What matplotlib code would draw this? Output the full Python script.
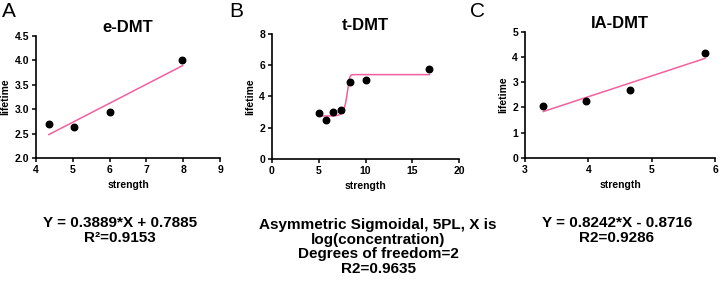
import numpy as np
import matplotlib.pyplot as plt

plt.rcParams['font.family'] = ['Liberation Sans', 'DejaVu Sans']

# Panel A: e-DMT, linear fit
a_x = [4.35, 5.03, 6.01, 7.98]
a_y = [2.69, 2.63, 2.94, 4.00]
a_slope, a_icpt = 0.3889, 0.7885

# Panel B: t-DMT, asymmetric sigmoidal (5PL) fit
b_x = [5.03, 5.81, 6.52, 7.34, 8.31, 10.09, 16.83]
b_y = [2.93, 2.50, 2.99, 3.12, 4.94, 5.05, 5.73]
b_bottom, b_top, b_logxb, b_hill, b_s = 2.75, 5.40, 8.2, 5.0, 0.3

# Panel C: IA-DMT, linear fit
c_x = [3.29, 3.97, 4.66, 5.84]
c_y = [2.07, 2.27, 2.70, 4.14]
c_slope, c_icpt = 0.8242, -0.8716

fit_color = '#f2609e'

fig = plt.figure(figsize=(7.19, 2.86), dpi=100)
axA = fig.add_axes([0.0501, 0.4476, 0.2559, 0.4266])
axB = fig.add_axes([0.3783, 0.4441, 0.2601, 0.4370])
axC = fig.add_axes([0.7302, 0.4476, 0.2643, 0.4416])


def style(ax, title, xlim, ylim, xticks, yticks, yfmt):
    ax.set_xlim(*xlim)
    ax.set_ylim(*ylim)
    ax.set_xticks(xticks)
    ax.set_yticks(yticks)
    ax.set_yticklabels([yfmt.format(v) for v in yticks])
    for s in ['top', 'right']:
        ax.spines[s].set_visible(False)
    for s in ['left', 'bottom']:
        ax.spines[s].set_linewidth(1.2)
    ax.tick_params(direction='out', length=3, width=1.1, labelsize=7.5, pad=2)
    for lab in ax.get_xticklabels() + ax.get_yticklabels():
        lab.set_fontweight('bold')
    ax.set_title(title, fontsize=12, fontweight='bold', pad=3)
    ax.set_xlabel('strength', fontsize=7.5, fontweight='bold', labelpad=4)
    ax.set_ylabel('lifetime', fontsize=7.5, fontweight='bold', labelpad=3)


# A
xs = np.array([min(a_x), max(a_x)])
axA.plot(xs, a_slope * xs + a_icpt, color=fit_color, lw=1.1)
axA.scatter(a_x, a_y, s=22, color='black', zorder=3)
style(axA, 'e-DMT', (4, 9), (2.0, 4.5), [4, 5, 6, 7, 8, 9],
      [2.0, 2.5, 3.0, 3.5, 4.0, 4.5], '{:.1f}')

# B
xb = np.linspace(min(b_x), max(b_x), 400)
yb = b_bottom + (b_top - b_bottom) / (1 + 10 ** ((b_logxb - xb) * b_hill)) ** b_s
axB.plot(xb, yb, color=fit_color, lw=1.1)
axB.scatter(b_x, b_y, s=22, color='black', zorder=3)
style(axB, 't-DMT', (0, 20), (0, 8), [0, 5, 10, 15, 20], [0, 2, 4, 6, 8], '{:d}')

# C
xc = np.array([min(c_x), max(c_x)])
axC.plot(xc, c_slope * xc + c_icpt, color=fit_color, lw=1.1)
axC.scatter(c_x, c_y, s=22, color='black', zorder=3)
style(axC, 'IA-DMT', (3, 6), (0, 5), [3, 4, 5, 6], [0, 1, 2, 3, 4, 5], '{:d}')

# panel letters
for x, letter in [(0.003, 'A'), (0.319, 'B'), (0.653, 'C')]:
    fig.text(x, 0.993, letter, fontsize=15, va='top', ha='left')

# fit summaries
fig.text(0.167, 0.194, 'Y = 0.3889*X + 0.7885\nR\u00b2=0.9153', ha='center',
         va='center', fontsize=11, fontweight='bold', linespacing=1.05)
fig.text(0.526, 0.136, 'Asymmetric Sigmoidal, 5PL, X is\nlog(concentration)\n'
         'Degrees of freedom=2\nR2=0.9635', ha='center', va='center',
         fontsize=11, fontweight='bold', linespacing=1.05)
fig.text(0.858, 0.194, 'Y = 0.8242*X - 0.8716\nR2=0.9286', ha='center',
         va='center', fontsize=11, fontweight='bold', linespacing=1.05)

fig.savefig('out.png', dpi=100)
